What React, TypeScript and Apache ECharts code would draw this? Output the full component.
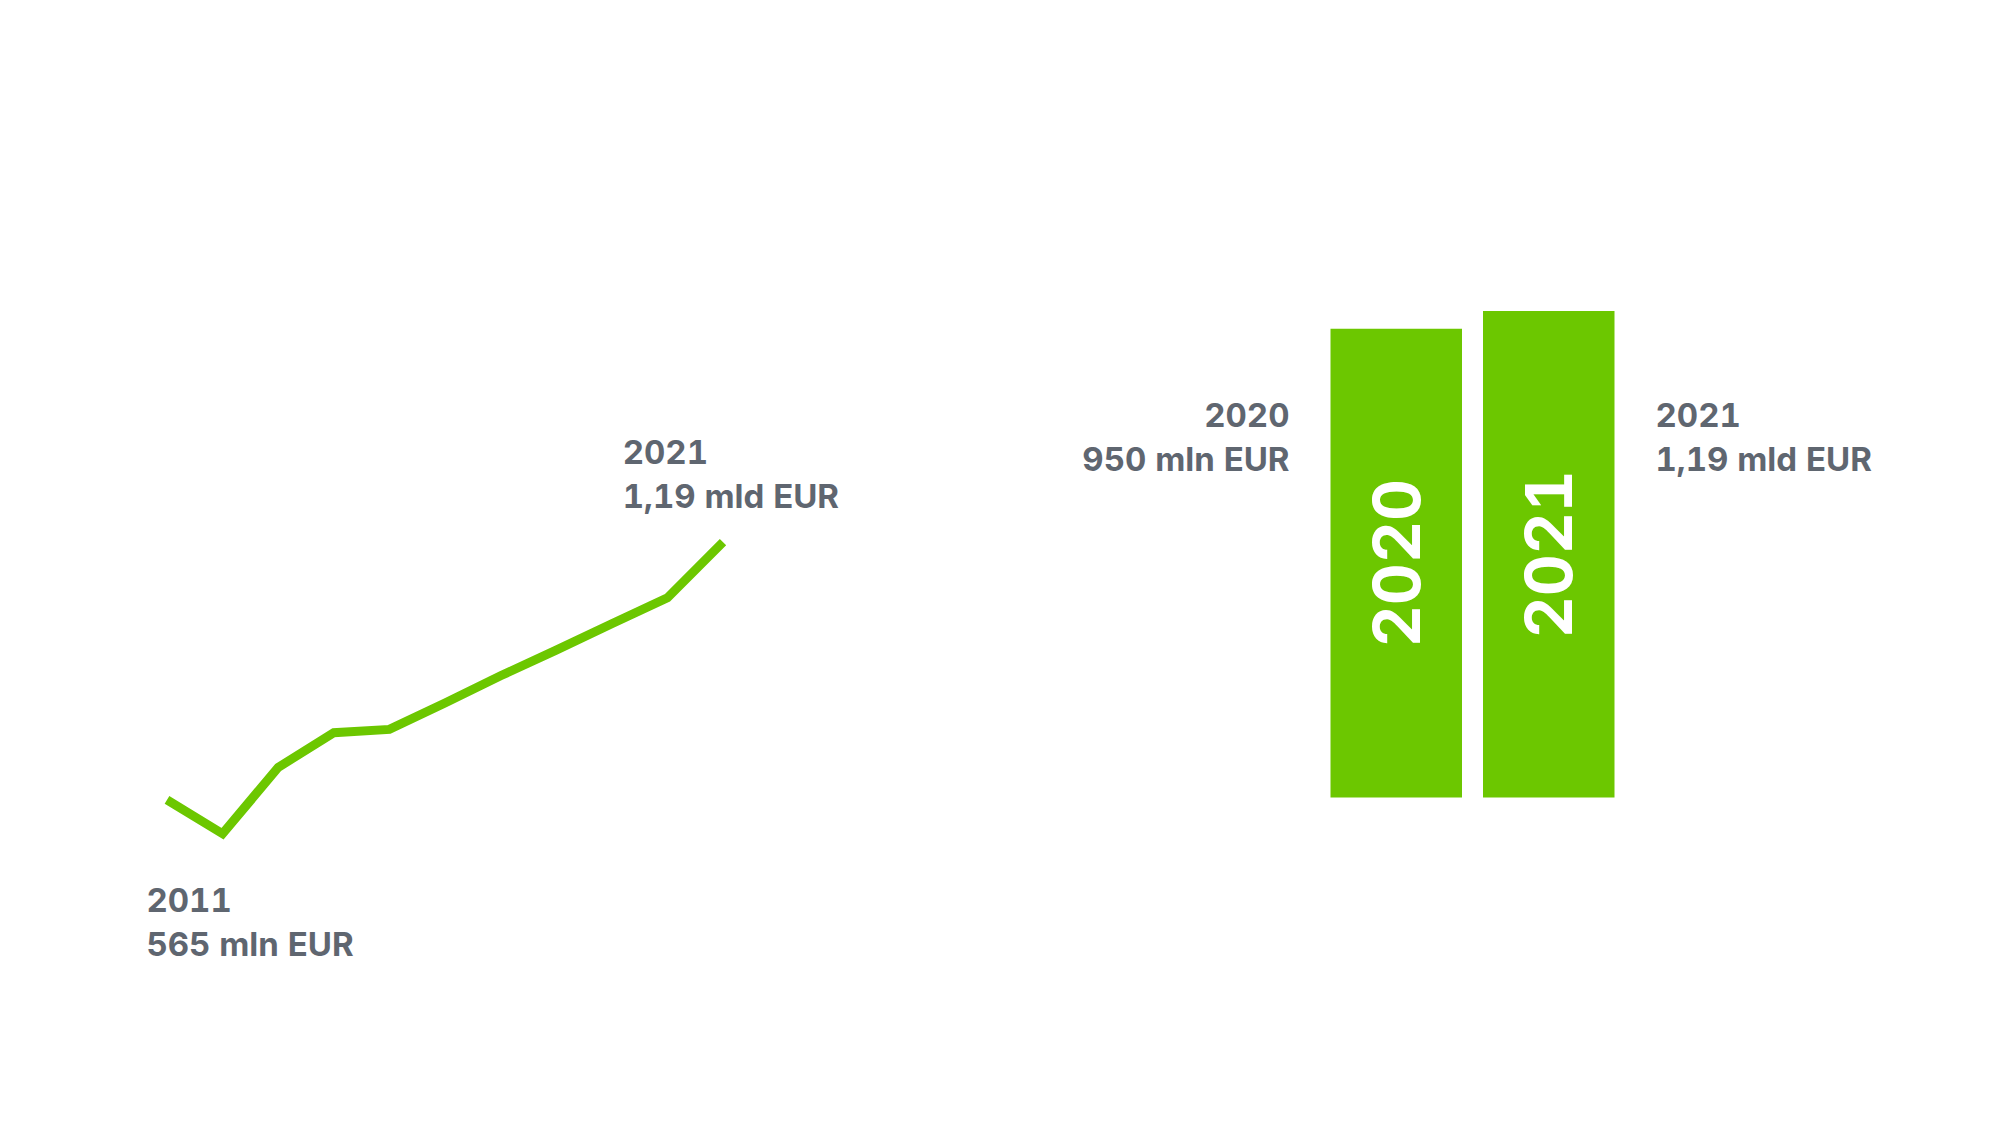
import React, { useEffect, useRef } from "react";
import * as echarts from "echarts";

// revenue line 2011-2021 (mln EUR)
const lineYears = ["2011", "2012", "2013", "2014", "2015", "2016", "2017", "2018", "2019", "2020", "2021"];
const lineValues = [565, 483, 644, 728, 736, 800, 866, 928, 992, 1055, 1190];

// the two big bars
const barYears = ["2020", "2021"];
const barValues = [950, 1190];

const GREEN = "#6cc700";
const GREY = "#5f6670";
const FONT = "Inter, 'Noto Sans', sans-serif";
const BAR_W = 131.5;
const BAR_BASE = -5400;

const formatAmount = (v: number) =>
  v >= 1000 ? (v / 1000).toFixed(2).replace(".", ",") + " mld EUR" : v + " mln EUR";

const labelStyle = (text: string, x: number, y: number, align: string) => ({
  type: "text",
  style: {
    text,
    x,
    y,
    fill: GREY,
    fontFamily: FONT,
    fontSize: 33,
    fontWeight: 700,
    lineHeight: 44,
    align,
    textAlign: align,
    verticalAlign: "top",
    textVerticalAlign: "top",
  },
});

const App: React.FC = () => {
  const chartRef = useRef<HTMLDivElement>(null);

  useEffect(() => {
    const chart = echarts.init(chartRef.current!, null, { renderer: "svg" });

    chart.setOption({
      animation: false,
      grid: [
        { left: 167, top: 538, width: 556, height: 330 },
        { left: 1320, top: 311, width: 305, height: 486.5 },
      ],
      xAxis: [
        { type: "category", gridIndex: 0, data: lineYears, boundaryGap: false, show: false },
        { type: "category", gridIndex: 1, data: barYears, show: false },
      ],
      yAxis: [
        { type: "value", gridIndex: 0, min: 400, max: 1200, show: false },
        { type: "value", gridIndex: 1, min: BAR_BASE, max: 1190, startValue: BAR_BASE, show: false },
      ],
      series: [
        {
          type: "line",
          xAxisIndex: 0,
          yAxisIndex: 0,
          data: lineValues,
          showSymbol: false,
          lineStyle: { color: GREEN, width: 9, cap: "butt", join: "miter" },
        },
        {
          type: "bar",
          xAxisIndex: 1,
          yAxisIndex: 1,
          data: barValues,
          barWidth: BAR_W,
          itemStyle: { color: GREEN },
          label: {
            show: true,
            position: "inside",
            rotate: 90,
            formatter: (p: any) => p.name,
            color: "#ffffff",
            fontFamily: FONT,
            fontSize: 65,
            fontWeight: 700,
          },
        },
      ],
    });

    const last = lineValues.length - 1;
    const p0 = chart.convertToPixel({ gridIndex: 0 }, [0, lineValues[0]]);
    const pN = chart.convertToPixel({ gridIndex: 0 }, [last, lineValues[last]]);
    const b0 = chart.convertToPixel({ gridIndex: 1 }, [0, barValues[0]]);
    const b1 = chart.convertToPixel({ gridIndex: 1 }, [1, barValues[1]]);

    chart.setOption({
      graphic: [
        labelStyle(lineYears[0] + "\n" + formatAmount(lineValues[0]), p0[0] - 20.6, p0[1] + 78, "left"),
        labelStyle(lineYears[last] + "\n" + formatAmount(lineValues[last]), pN[0] - 100.3, pN[1] - 112, "left"),
        labelStyle(barYears[0] + "\n" + formatAmount(barValues[0]), b0[0] - BAR_W / 2 - 41, b0[1] + 64, "right"),
        labelStyle(barYears[1] + "\n" + formatAmount(barValues[1]), b1[0] + BAR_W / 2 + 41, b0[1] + 64, "left"),
      ],
    });

    return () => {
      chart.dispose();
    };
  }, []);

  return (
    <>
      <style>{`.chart-root text { font-feature-settings: "tnum" 1; font-variant-numeric: tabular-nums; }`}</style>
      <div
        ref={chartRef}
        className="chart-root"
        style={{ position: "absolute", left: 0, top: 0, width: "2000px", height: "1125px" }}
      ></div>
    </>
  );
};

export default App;
